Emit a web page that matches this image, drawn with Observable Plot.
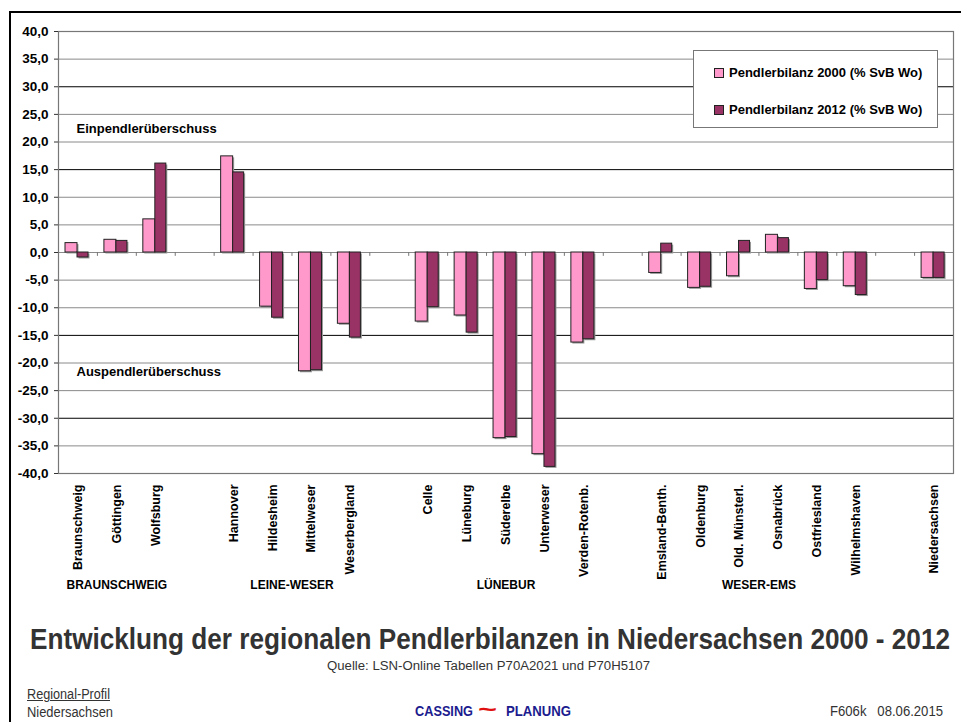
<!DOCTYPE html>
<html>
<head>
<meta charset="utf-8">
<script src="https://cdn.jsdelivr.net/npm/d3@7"></script>
<script src="https://cdn.jsdelivr.net/npm/@observablehq/plot@0.6"></script>
<style>
  html, body { margin: 0; padding: 0; background: #fff; }
  #page { position: relative; width: 961px; height: 722px; overflow: hidden; font-family: "Liberation Sans", Arial, sans-serif; }
  #frame { position: absolute; left: 9px; top: 11px; right: -5px; bottom: -5px; border-top: 2px solid #000; border-left: 2px solid #000; }
  #chart { position: absolute; left: 0; top: 0; }
  .abs { position: absolute; white-space: nowrap; line-height: 1.2; display: inline-block; }
  #legend { position: absolute; left: 693px; top: 50px; width: 243px; height: 76px; border: 1px solid #777; background: #fff; font-weight: bold; font-size: 13px; color: #000; }
  #legend .row { position: absolute; left: 20px; display: flex; align-items: center; }
  #legend .sw { width: 8px; height: 8px; border: 1px solid #222; margin-right: 5px; }
</style>
</head>
<body>
<div id="page">
  <div id="frame"></div>
  <div id="chart"></div>
  <div id="legend"></div>
</div>
<script>
// ---- data ----
const categories = ["Braunschweig","Göttingen","Wolfsburg"," ","Hannover","Hildesheim","Mittelweser","Weserbergland","  ","Celle","Lüneburg","Süderelbe","Unterweser","Verden-Rotenb.","   ","Emsland-Benth.","Oldenburg","Old. Münsterl.","Osnabrück","Ostfriesland","Wilhelmshaven","    ","Niedersachsen"];
const values2000 = [1.7, 2.3, 6.0, null, 17.4, -9.8, -21.5, -12.9, null, -12.5, -11.4, -33.6, -36.5, -16.3, null, -3.7, -6.4, -4.3, 3.2, -6.6, -6.1, null, -4.6];
const values2012 = [-0.9, 2.1, 16.1, null, 14.5, -11.8, -21.3, -15.4, null, -9.9, -14.5, -33.4, -38.8, -15.7, null, 1.6, -6.2, 2.1, 2.6, -5.0, -7.7, null, -4.6];
const seriesNames = ["Pendlerbilanz 2000 (% SvB Wo)", "Pendlerbilanz 2012 (% SvB Wo)"];
const seriesColors = ["#ff99cc", "#993366"];
const yTicks = d3.range(-40, 41, 5);
const groups = [
  {label: "BRAUNSCHWEIG", members: ["Braunschweig","Göttingen","Wolfsburg"]},
  {label: "LEINE-WESER", members: ["Hannover","Hildesheim","Mittelweser","Weserbergland"]},
  {label: "LÜNEBUR", members: ["Celle","Lüneburg","Süderelbe","Unterweser","Verden-Rotenb."]},
  {label: "WESER-EMS", members: ["Emsland-Benth.","Oldenburg","Old. Münsterl.","Osnabrück","Ostfriesland","Wilhelmshaven"]}
];
const annotations = [{text: "Einpendlerüberschuss", y: 22.4}, {text: "Auspendlerüberschuss", y: -21.6}];
const titleText = "Entwicklung der regionalen Pendlerbilanzen in Niedersachsen 2000 - 2012";
const sourceText = "Quelle: LSN-Online Tabellen P70A2021 und P70H5107";
const footerLeft = ["Regional-Profil", "Niedersachsen"];
const logoWords = ["CASSING", "PLANUNG"];
const codeText = "F606k\u00a0\u00a0 08.06.2015";

// ---- build chart ----
const W = 961, H = 610, mL = 58, mR = 8, mT = 31, mB = 137;
const step = (W - mL - mR) / categories.length;
const rows2000 = categories.map((c, i) => ({c, v: values2000[i]})).filter(d => d.v != null);
const rows2012 = categories.map((c, i) => ({c, v: values2012[i]})).filter(d => d.v != null);
const groupRows = groups.map(g => {
  const n = g.members.length;
  return {label: g.label, x: g.members[Math.floor((n - 1) / 2)], even: n % 2 === 0};
});
const font = '"Liberation Sans", Arial, sans-serif';
const fmt = d => d.toFixed(1).replace(".", ",");
const pinkL = 7, pinkR = step - 19, darkL = 19, darkR = step - 30;

const chart = Plot.plot({
  width: W, height: H,
  marginLeft: mL, marginRight: mR, marginTop: mT, marginBottom: mB,
  style: {fontFamily: font, fontSize: "12px", color: "#000", background: "transparent"},
  x: {domain: categories, padding: 0, round: false, axis: null},
  y: {domain: [-40, 40], axis: null},
  marks: [
    Plot.ruleY(yTicks, {y: d => d, stroke: d => (d !== 0 && Math.abs(d) % 15 === 0) ? "#000" : "#8a8a8a", strokeWidth: 1}),
    Plot.frame({stroke: "#777", strokeWidth: 1.2}),
    Plot.ruleX(categories, {x: d => d, y1: 0, y2: -0.7, dx: step / 2, stroke: "#777"}),
    Plot.barY(rows2000, {x: "c", y: "v", insetLeft: pinkL, insetRight: pinkR, fill: "#9a9a9a", dx: 1.5, dy: 1.5}),
    Plot.barY(rows2012, {x: "c", y: "v", insetLeft: darkL, insetRight: darkR, fill: "#9a9a9a", dx: 1.5, dy: 1.5}),
    Plot.barY(rows2000, {x: "c", y: "v", insetLeft: pinkL, insetRight: pinkR, fill: seriesColors[0], stroke: "#222", strokeWidth: 1}),
    Plot.barY(rows2012, {x: "c", y: "v", insetLeft: darkL, insetRight: darkR, fill: seriesColors[1], stroke: "#222", strokeWidth: 1}),
    Plot.ruleX([0], {frameAnchor: "left", stroke: "#333", strokeWidth: 1.5}),
    Plot.axisY({ticks: yTicks, tickFormat: fmt, tickSize: 4, tickPadding: 6, fontWeight: "bold", fontSize: 13.5, stroke: "#333"}),
    Plot.axisX({tickRotate: -90, tickSize: 0, tickPadding: 11, fontWeight: "bold", fontSize: 12.5}),
    Plot.text(groupRows.filter(d => !d.even), {x: "x", text: "label", frameAnchor: "bottom", lineAnchor: "middle", dy: 112, fontWeight: "bold", fontSize: 12}),
    Plot.text(groupRows.filter(d => d.even), {x: "x", text: "label", frameAnchor: "bottom", lineAnchor: "middle", dx: step / 2, dy: 112, fontWeight: "bold", fontSize: 12}),
    Plot.text(annotations, {text: "text", y: "y", frameAnchor: "left", dx: 18, textAnchor: "start", fontWeight: "bold", fontSize: 13})
  ]
});
document.getElementById("chart").appendChild(chart);

// ---- legend ----
const leg = document.getElementById("legend");
seriesNames.forEach((s, i) => {
  const r = document.createElement("div");
  r.className = "row";
  r.style.top = (i === 0 ? 14 : 51) + "px";
  r.innerHTML = `<div class="sw" style="background:${seriesColors[i]}"></div><span>${s}</span>`;
  leg.appendChild(r);
});

// ---- footer texts, fitted to the reference widths ----
const page = document.getElementById("page");
function addText(text, o) {
  const el = document.createElement("div");
  el.className = "abs";
  el.textContent = text;
  el.style.fontSize = o.size + "px";
  el.style.fontWeight = o.bold ? "bold" : "normal";
  el.style.color = o.color || "#333";
  el.style.top = o.top + "px";
  if (o.underline) el.style.textDecoration = "underline";
  page.appendChild(el);
  const w = el.getBoundingClientRect().width;
  const s = o.width / w;
  el.style.transformOrigin = "0 0";
  el.style.transform = `scaleX(${s})`;
  const left = o.left != null ? o.left : o.center != null ? o.center - o.width / 2 : o.right - o.width;
  el.style.left = left + "px";
  return el;
}
addText(titleText, {size: 30, bold: true, top: 621, center: 490, width: 920});
addText(sourceText, {size: 12.5, top: 659, center: 488.5, width: 323});
addText(footerLeft[0], {size: 14, top: 686, left: 27, width: 83, underline: true});
addText(footerLeft[1], {size: 14, top: 704, left: 27, width: 86});
addText(logoWords[0], {size: 15, bold: true, color: "#1c1c8f", top: 702, left: 415, width: 58});
addText("~", {size: 22, bold: true, color: "#e01010", top: 697, left: 478, width: 19});
addText(logoWords[1], {size: 15, bold: true, color: "#1c1c8f", top: 702, left: 506, width: 65});
addText(codeText, {size: 14, top: 703, right: 943, width: 113});
</script>
</body>
</html>
